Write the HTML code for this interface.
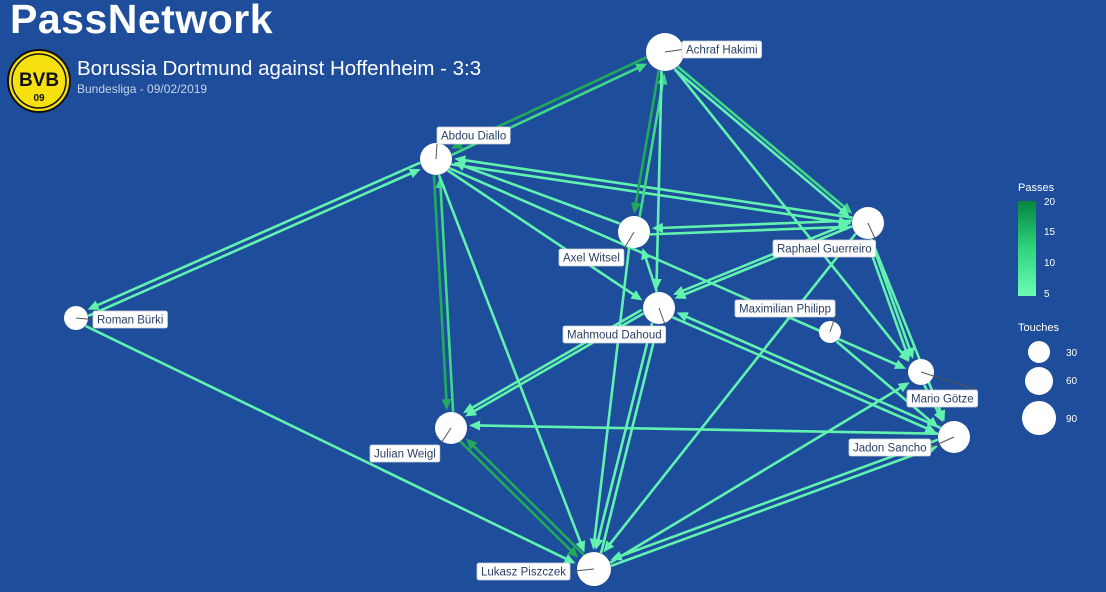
<!DOCTYPE html>
<html><head><meta charset="utf-8">
<style>
html,body{margin:0;padding:0}
body{width:1106px;height:592px;background:#1e4d9b;overflow:hidden;position:relative;font-family:"Liberation Sans",sans-serif}
.t1{position:absolute;left:10px;top:-4px;font-size:41px;font-weight:bold;color:#fff;letter-spacing:0.5px}
.t2{position:absolute;left:77px;top:57px;font-size:20.5px;color:#fff}
.t3{position:absolute;left:77px;top:82px;font-size:12px;color:#c8d3ea}
</style></head><body>
<div class="t1">PassNetwork</div>
<div class="t2">Borussia Dortmund against Hoffenheim - 3:3</div>
<div class="t3">Bundesliga - 09/02/2019</div>
<svg id="s" width="1106" height="592" style="position:absolute;left:0;top:0">
<defs>
<linearGradient id="g" x1="0" y1="0" x2="0" y2="1"><stop offset="0" stop-color="#06853f"/><stop offset="0.5" stop-color="#2fd47c"/><stop offset="1" stop-color="#6dfcb4"/></linearGradient>
</defs>
<circle cx="39" cy="81" r="31" fill="#f7e010" stroke="#111" stroke-width="2"/>
<circle cx="39" cy="81" r="27" fill="none" stroke="#111" stroke-width="1.5"/>
<text x="39" y="86" font-family="Liberation Sans" font-weight="bold" font-size="19" text-anchor="middle" fill="#111">BVB</text>
<text x="39" y="101" font-family="Liberation Sans" font-weight="bold" font-size="10" text-anchor="middle" fill="#111">09</text>
<g id="edges"></g>
<g id="nodes"></g>
<text x="1018" y="191" font-family="Liberation Sans" font-size="11" fill="#fff">Passes</text>
<rect x="1018" y="201" width="18" height="95" fill="url(#g)"/>
<g font-family="Liberation Sans" font-size="10" fill="#fff">
<text x="1044" y="205">20</text><text x="1044" y="235">15</text><text x="1044" y="266">10</text><text x="1044" y="297">5</text>
<text x="1018" y="331" font-size="11">Touches</text>
<text x="1066" y="356">30</text><text x="1066" y="384">60</text><text x="1066" y="422">90</text>
</g>
<circle cx="1039" cy="352" r="11" fill="#fff"/>
<circle cx="1039" cy="381" r="14" fill="#fff"/>
<circle cx="1039" cy="418" r="17" fill="#fff"/>
</svg>
<script>
var N={
HA:[665,52,19,'Achraf Hakimi',682,41],
AD:[436,159,16,'Abdou Diallo',437,127],
AW:[634,232,16,'Axel Witsel',559,249],
RG:[868,223,16,'Raphael Guerreiro',773,240],
MD:[659,308,16,'Mahmoud Dahoud',563,326],
MP:[830,332,11,'Maximilian Philipp',735,300],
RB:[76,318,12,'Roman Bürki',93,311],
MG:[921,372,13,'Mario Götze',907,390],
JS:[954,437,16,'Jadon Sancho',849,439],
JW:[451,428,16,'Julian Weigl',370,445],
LP:[594,569,17,'Lukasz Piszczek',477,563]};
var L='#62f2b0',D='#1faa5c',M='#3fd98a';
var E=[
['RB','AD',L],['AD','RB',L],['RB','LP',L],
['AD','HA',M],['HA','AD',D],
['AD','JW',D],['JW','AD',M],
['AD','LP',L],['AD','RG',L],['RG','AD',L],['AW','AD',L],['AD','MD',L],
['HA','AW',D],['AW','HA',M],['HA','MD',L],['HA','RG',M],['HA','RG',L],['HA','MG',L],
['AW','RG',L],['RG','AW',L],['AW','LP',L],['MD','AW',L],
['RG','MD',L],['RG','MD',L],['RG','MG',L],['RG','MG',L],['RG','JS',L],['RG','LP',L],
['JS','MD',L],['MD','JS',L],['MD','JW',L],['MD','JW',L],['MD','LP',L],['LP','MD',L],
['MP','JS',L],['JS','JW',L],['JW','LP',D],['LP','JW',D],
['LP','JS',L],['JS','LP',L],['LP','MG',L],['MG','JS',L],['AD','MG',L]];
var ns='http://www.w3.org/2000/svg',eg=document.getElementById('edges'),ng=document.getElementById('nodes');
var cnt={};
E.forEach(function(e){
var a=N[e[0]],b=N[e[1]];var dx=b[0]-a[0],dy=b[1]-a[1],l=Math.hypot(dx,dy);var ux=dx/l,uy=dy/l,px=-uy,py=ux;
var k=e[0]+e[1];cnt[k]=(cnt[k]||0)+1;var off=3+ (cnt[k]-1)*4;
var x1=a[0]+ux*a[2]+px*off,y1=a[1]+uy*a[2]+py*off,x2=b[0]-ux*(b[2]+2)+px*off,y2=b[1]-uy*(b[2]+2)+py*off;
var ln=document.createElementNS(ns,'line');
ln.setAttribute('x1',x1);ln.setAttribute('y1',y1);ln.setAttribute('x2',x2-ux*8);ln.setAttribute('y2',y2-uy*8);
ln.setAttribute('stroke',e[2]);ln.setAttribute('stroke-width','2.6');eg.appendChild(ln);
var p=document.createElementNS(ns,'polygon');
var bx=x2-ux*11,by=y2-uy*11;
p.setAttribute('points',x2+','+y2+' '+(bx+px*5)+','+(by+py*5)+' '+(bx-px*5)+','+(by-py*5));
p.setAttribute('fill',e[2]);eg.appendChild(p);
});
for(var k in N){var n=N[k];
var c=document.createElementNS(ns,'circle');c.setAttribute('cx',n[0]);c.setAttribute('cy',n[1]);c.setAttribute('r',n[2]);c.setAttribute('fill','#fff');ng.appendChild(c);
var t=document.createElementNS(ns,'text');t.setAttribute('x',n[4]+4);t.setAttribute('y',n[5]+12.5);t.setAttribute('font-family','Liberation Sans');t.setAttribute('font-size','11.5');t.setAttribute('fill','#2a3f66');t.textContent=n[3];
ng.appendChild(t);var w=t.getComputedTextLength();
var r=document.createElementNS(ns,'rect');r.setAttribute('x',n[4]);r.setAttribute('y',n[5]);r.setAttribute('width',w+8);r.setAttribute('height',17);r.setAttribute('rx',2);r.setAttribute('fill','#fff');r.setAttribute('stroke','#c8d0e0');r.setAttribute('stroke-width','0.8');
ng.insertBefore(r,t);
var lx=n[4]+(n[4]>n[0]?0:w+8),ly=n[5]+8.5;if(n[5]>n[1]+5)ly=n[5];if(n[5]+17<n[1]-5)ly=n[5]+17;
var ll=document.createElementNS(ns,'line');ll.setAttribute('x1',n[0]);ll.setAttribute('y1',n[1]);ll.setAttribute('x2',Math.max(n[4],Math.min(lx,n[4]+w+8)));ll.setAttribute('y2',ly);ll.setAttribute('stroke','#555');ll.setAttribute('stroke-width','1');ng.insertBefore(ll,r);
}
</script>
</body></html>
